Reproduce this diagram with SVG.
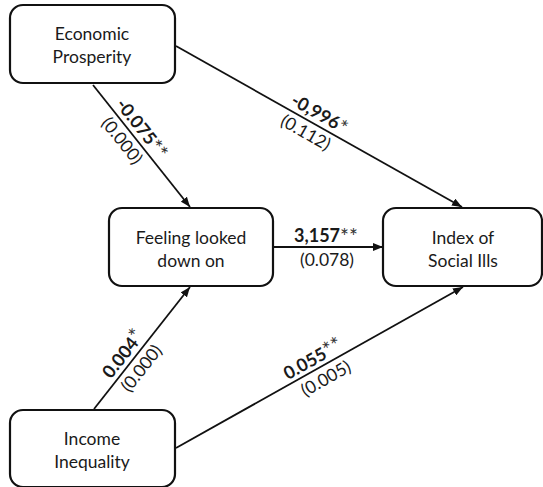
<svg xmlns="http://www.w3.org/2000/svg" width="543" height="487" viewBox="0 0 543 487">
<style>
.box{fill:#fff;stroke:#111;stroke-width:2.2}
.nt{font-family:Lato,"Liberation Sans",sans-serif;font-size:17.5px;fill:#1a1a1a;text-anchor:middle}
.edge{stroke:#111;stroke-width:1.8;fill:none;marker-end:url(#ah)}
.lb{font-family:Lato,"Liberation Sans",sans-serif;font-size:18px;fill:#1a1a1a;text-anchor:middle;font-weight:bold}
.lp{font-family:Lato,"Liberation Sans",sans-serif;font-size:17.5px;fill:#1a1a1a;text-anchor:middle}
.st{font-weight:normal;font-size:21px;fill:#333}
</style>
<defs>
<marker id="ah" markerUnits="userSpaceOnUse" markerWidth="10" markerHeight="8" refX="10" refY="4" orient="auto">
<path d="M0,0 L10,4 L0,8 z" fill="#111"/>
</marker>
</defs>
<rect width="543" height="487" fill="#fff"/>
<g id="connectors">
<line class="edge" x1="93" y1="85" x2="190" y2="207"/>
<line class="edge" x1="176" y1="46" x2="462" y2="207"/>
<line class="edge" x1="273" y1="247" x2="383" y2="247"/>
<line class="edge" x1="94" y1="409" x2="190" y2="287"/>
<line class="edge" x1="176" y1="448" x2="463" y2="287"/>
<g transform="translate(132,134) rotate(51.5)">
<text class="lb" x="2" y="-5">-0.075<tspan class="st" dy="2">**</tspan></text>
<text class="lp" x="-1" y="18">(0.000)</text>
</g>
<g transform="translate(315,124) rotate(29.5)">
<text class="lb" x="-1" y="-5">-0,996<tspan class="st" dy="2">*</tspan></text>
<text class="lp" x="-4" y="18">(0.112)</text>
</g>
<g>
<text class="lb" x="326" y="242">3,157<tspan class="st" dy="2">**</tspan></text>
<text class="lp" x="327" y="266">(0.078)</text>
</g>
<g transform="translate(132,361) rotate(-51.8)">
<text class="lb" x="0" y="-5">0.004<tspan class="st" dy="-1">*</tspan></text>
<text class="lp" x="0" y="18">(0.000)</text>
</g>
<g transform="translate(320,368) rotate(-29.3)">
<text class="lb" x="-2" y="-5">0.055<tspan class="st">**</tspan></text>
<text class="lp" x="0" y="18">(0.005)</text>
</g>
</g>
<g id="economic-prosperity">
<rect class="box" x="10" y="5" width="165" height="78" rx="13"/>
<text class="nt" x="92" y="40">Economic</text>
<text class="nt" x="92" y="63">Prosperity</text>
</g>
<g id="feeling-looked-down-on">
<rect class="box" x="109" y="208" width="164" height="78" rx="13"/>
<text class="nt" x="191" y="244">Feeling looked</text>
<text class="nt" x="191" y="267">down on</text>
</g>
<g id="index-of-social-ills">
<rect class="box" x="383" y="208" width="159" height="78" rx="13"/>
<text class="nt" x="463" y="244">Index of</text>
<text class="nt" x="463" y="267">Social Ills</text>
</g>
<g id="income-inequality">
<rect class="box" x="10" y="410" width="165" height="77" rx="13"/>
<text class="nt" x="92" y="445">Income</text>
<text class="nt" x="92" y="468">Inequality</text>
</g>
</svg>
